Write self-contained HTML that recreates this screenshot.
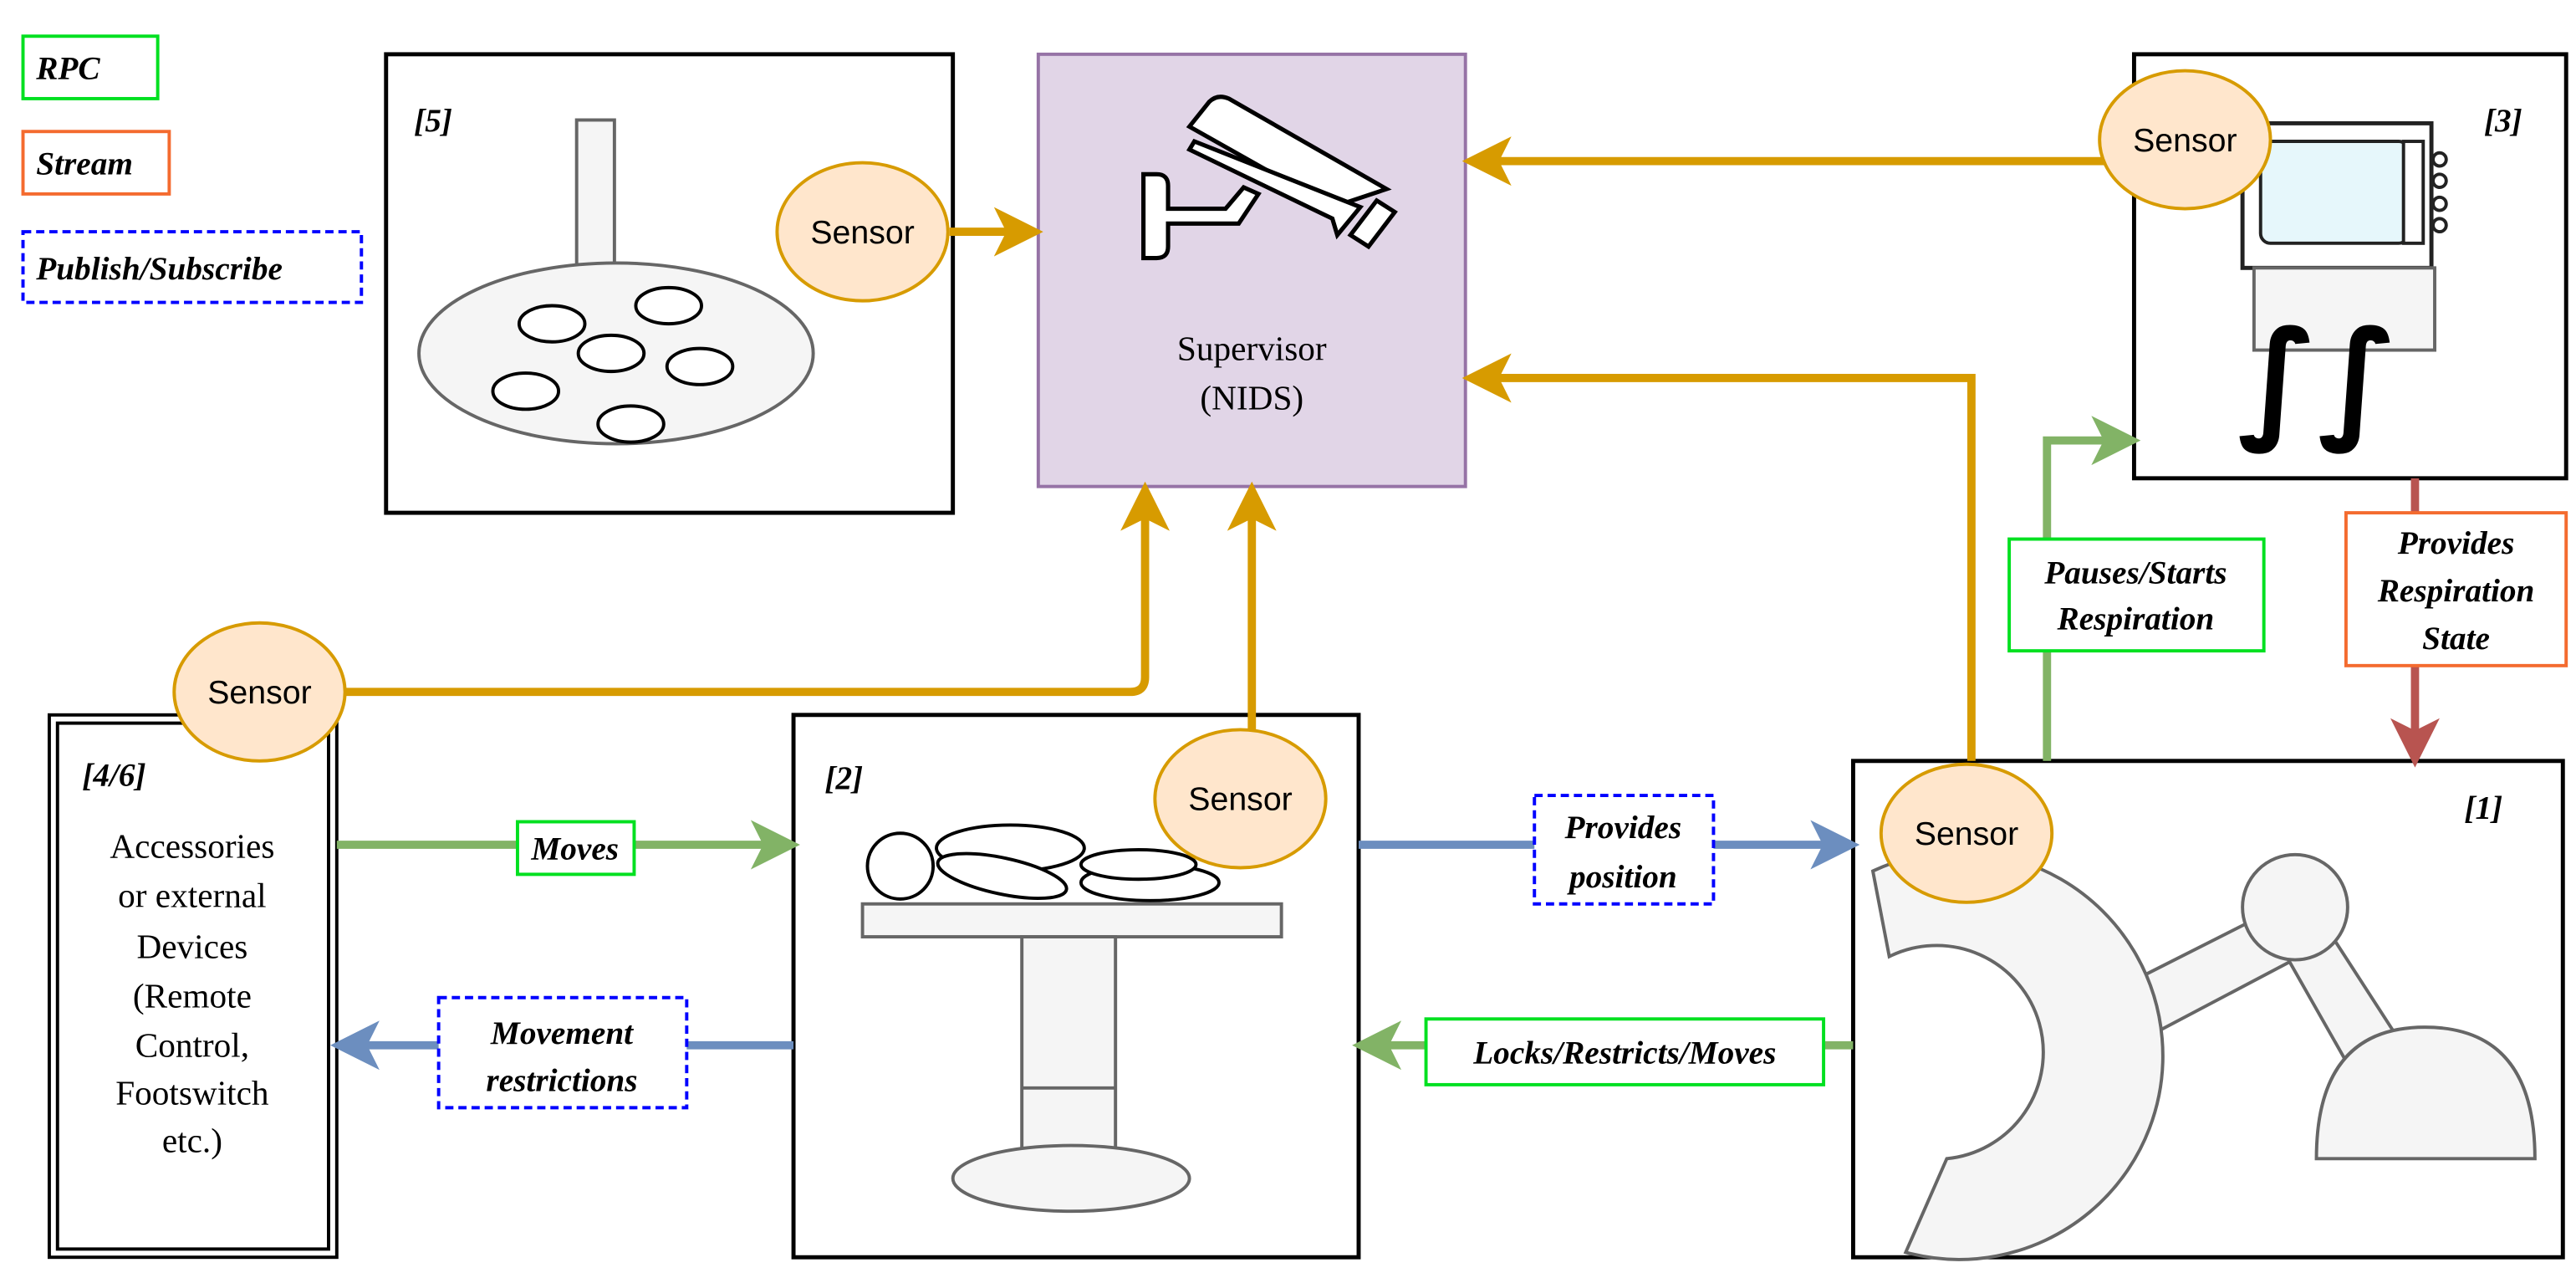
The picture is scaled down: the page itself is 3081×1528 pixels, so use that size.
<!DOCTYPE html>
<html><head><meta charset="utf-8"><style>html,body{margin:0;padding:0;background:#fff}svg{display:block}</style></head><body>
<svg width="3081" height="1528" viewBox="0 0 1568 777.6" xmlns="http://www.w3.org/2000/svg">
<defs>
<marker id="ao" markerWidth="6" markerHeight="6" refX="3" refY="3" orient="auto" markerUnits="strokeWidth"><path d="M0,0 L6,3 L0,6 L1.5,3 Z" fill="#d79b00"/></marker>
<marker id="ag" markerWidth="6" markerHeight="6" refX="3" refY="3" orient="auto" markerUnits="strokeWidth"><path d="M0,0 L6,3 L0,6 L1.5,3 Z" fill="#82b366"/></marker>
<marker id="ab" markerWidth="6" markerHeight="6" refX="3" refY="3" orient="auto" markerUnits="strokeWidth"><path d="M0,0 L6,3 L0,6 L1.5,3 Z" fill="#6c8ebf"/></marker>
<marker id="ar" markerWidth="6" markerHeight="6" refX="3" refY="3" orient="auto" markerUnits="strokeWidth"><path d="M0,0 L6,3 L0,6 L1.5,3 Z" fill="#b85450"/></marker>
</defs>
<style>
.lbl{font-family:"Liberation Serif",serif;font-weight:bold;font-style:italic;font-size:20px}
.sen{font-family:"Liberation Sans",sans-serif;font-size:20px}
.ser{font-family:"Liberation Serif",serif;font-size:21px}
.g{fill:#f5f5f5;stroke:#666;stroke-width:2}
</style>
<!-- legend -->
<rect x="14" y="22" width="82" height="38" fill="#fff" stroke="#00e020" stroke-width="2"/>
<text x="22" y="48" class="lbl">RPC</text>
<rect x="14" y="80" width="89" height="38" fill="#fff" stroke="#f46b2f" stroke-width="2"/>
<text x="22" y="106" class="lbl">Stream</text>
<rect x="14" y="141" width="206" height="43" fill="#fff" stroke="#0000ff" stroke-width="2" stroke-dasharray="5,3"/>
<text x="22" y="170" class="lbl">Publish/Subscribe</text>

<!-- box 5 -->
<rect x="235" y="33" width="345" height="279" fill="#fff" stroke="#000" stroke-width="2.5"/>
<text x="252" y="80" class="lbl">[5]</text>
<rect x="351" y="73" width="23" height="92" class="g"/>
<ellipse cx="375" cy="215" rx="120" ry="55" class="g"/>
<g fill="#fff" stroke="#000" stroke-width="2">
<ellipse cx="336" cy="197" rx="20" ry="11"/><ellipse cx="407" cy="186" rx="20" ry="11"/>
<ellipse cx="372" cy="215" rx="20" ry="11"/><ellipse cx="426" cy="223" rx="20" ry="11"/>
<ellipse cx="320" cy="238" rx="20" ry="11"/><ellipse cx="384" cy="258" rx="20" ry="11"/>
</g>

<!-- supervisor -->
<rect x="632" y="33" width="260" height="263" fill="#e1d5e7" stroke="#9673a6" stroke-width="2"/>
<g fill="#fff" stroke="#000" stroke-width="2.6" stroke-linejoin="miter">
<path d="M696,106 L704,106 Q711,106 711,113 L711,127 L746,127 L757,114 L766,118 L754,136 L711,136 L711,150 Q711,157 704,157 L696,157 Z"/>
<path d="M724,77 L736,62 Q741,57 748,60 L844,115 L811,126 Z"/>
<path d="M724,91 L727,86 L828,126 L814,143 L811,133 Z"/>
<path d="M822,143 L838,122 L849,129 L833,150 Z"/>
</g>
<text x="762" y="219" text-anchor="middle" class="ser" font-size="20">Supervisor</text>
<text x="762" y="249" text-anchor="middle" class="ser" font-size="20">(NIDS)</text>

<!-- box 3 -->
<rect x="1299" y="33" width="263" height="258" fill="#fff" stroke="#000" stroke-width="2.5"/>
<text x="1512" y="80" class="lbl">[3]</text>
<rect x="1365" y="75" width="115" height="88" fill="#fff" stroke="#222" stroke-width="2.5"/>
<rect x="1376" y="86" width="90" height="62" rx="6" fill="#e6f7fb" stroke="#222" stroke-width="2"/>
<rect x="1463" y="86" width="12" height="62" fill="#fff" stroke="#222" stroke-width="2"/>
<g fill="#fff" stroke="#222" stroke-width="2"><circle cx="1485" cy="97" r="4"/><circle cx="1485" cy="110" r="4"/><circle cx="1485" cy="124" r="4"/><circle cx="1485" cy="137" r="4"/></g>
<rect x="1372" y="163" width="110" height="50" class="g"/>
<text x="1362" y="258" font-family="DejaVu Sans,sans-serif" font-size="80" font-weight="bold">∫∫</text>

<!-- box 4/6 -->
<rect x="30" y="435" width="175" height="330" fill="#fff" stroke="#000" stroke-width="2"/>
<rect x="35" y="440" width="165" height="320" fill="none" stroke="#000" stroke-width="2"/>
<text x="50" y="478" class="lbl">[4/6]</text>
<g class="ser" text-anchor="middle">
<text x="117" y="522">Accessories</text><text x="117" y="552">or external</text><text x="117" y="583">Devices</text>
<text x="117" y="613">(Remote</text><text x="117" y="643">Control,</text><text x="117" y="672">Footswitch</text><text x="117" y="701">etc.)</text>
</g>

<!-- box 2 -->
<rect x="483" y="435" width="344" height="330" fill="#fff" stroke="#000" stroke-width="2.5"/>
<text x="502" y="480" class="lbl">[2]</text>
<rect x="525" y="550" width="255" height="20" class="g"/>
<rect x="622" y="570" width="57" height="147" class="g"/>
<line x1="622" y1="662" x2="679" y2="662" stroke="#666" stroke-width="2"/>
<ellipse cx="652" cy="717" rx="72" ry="20" class="g"/>
<g fill="#fff" stroke="#000" stroke-width="2">
<circle cx="548" cy="527" r="20"/>
<ellipse cx="615" cy="516" rx="45" ry="14"/>
<ellipse cx="610" cy="533" rx="40" ry="11" transform="rotate(12 610 533)"/>
<ellipse cx="700" cy="537" rx="42" ry="11"/>
<ellipse cx="693" cy="526" rx="35" ry="9"/>
</g>

<!-- box 1 -->
<rect x="1128" y="463" width="432" height="302" fill="#fff" stroke="#000" stroke-width="2.5"/>
<text x="1500" y="498" class="lbl">[1]</text>
<path d="M1296,598 L1385,553 L1398,583 L1305,632 Z" class="g"/>
<path d="M1385,570 L1410,555 L1465,640 L1435,658 Z" class="g"/>
<path d="M1140,530 A124 124 0 1 1 1160,762 L1185,705 A65 65 0 1 0 1150,582 Z" class="g"/>
<circle cx="1397" cy="552" r="32" class="g"/>
<path d="M1410,705 L1543,705 Q1543,625 1476,625 Q1410,625 1410,705 Z" class="g"/>

<!-- connectors -->
<g fill="none" stroke-width="5">
<path d="M578,141 L620,141" stroke="#d79b00" marker-end="url(#ao)"/>
<path d="M1282,98 L905,98" stroke="#d79b00" marker-end="url(#ao)"/>
<path d="M1200,463 L1200,230 L905,230" stroke="#d79b00" marker-end="url(#ao)"/>
<path d="M210,421 L688,421 Q697,421 697,412 L697,308" stroke="#d79b00" marker-end="url(#ao)"/>
<path d="M762,445 L762,308" stroke="#d79b00" marker-end="url(#ao)"/>
<path d="M205,514 L472,514" stroke="#82b366" marker-end="url(#ag)"/>
<path d="M827,514 L1117,514" stroke="#6c8ebf" marker-end="url(#ab)"/>
<path d="M1128,636 L838,636" stroke="#82b366" marker-end="url(#ag)"/>
<path d="M483,636 L216,636" stroke="#6c8ebf" marker-end="url(#ab)"/>
<path d="M1246,463 L1246,268 L1288,268" stroke="#82b366" marker-end="url(#ag)"/>
<path d="M1470,291 L1470,452" stroke="#b85450" marker-end="url(#ar)"/>
</g>

<!-- labels -->
<rect x="315" y="500" width="71" height="32" fill="#fff" stroke="#00e020" stroke-width="2"/>
<text x="350" y="523" text-anchor="middle" class="lbl">Moves</text>
<rect x="934" y="484" width="109" height="66" fill="#fff" stroke="#0000ff" stroke-width="2" stroke-dasharray="5,3"/>
<text x="988" y="510" text-anchor="middle" class="lbl">Provides</text>
<text x="988" y="540" text-anchor="middle" class="lbl">position</text>
<rect x="868" y="620" width="242" height="40" fill="#fff" stroke="#00e020" stroke-width="2"/>
<text x="989" y="647" text-anchor="middle" class="lbl">Locks/Restricts/Moves</text>
<rect x="267" y="607" width="151" height="67" fill="#fff" stroke="#0000ff" stroke-width="2" stroke-dasharray="5,3"/>
<text x="342" y="635" text-anchor="middle" class="lbl">Movement</text>
<text x="342" y="664" text-anchor="middle" class="lbl">restrictions</text>
<rect x="1223" y="328" width="155" height="68" fill="#fff" stroke="#00e020" stroke-width="2"/>
<text x="1300" y="355" text-anchor="middle" class="lbl">Pauses/Starts</text>
<text x="1300" y="383" text-anchor="middle" class="lbl">Respiration</text>
<rect x="1428" y="312" width="134" height="93" fill="#fff" stroke="#f46b2f" stroke-width="2"/>
<text x="1495" y="337" text-anchor="middle" class="lbl">Provides</text>
<text x="1495" y="366" text-anchor="middle" class="lbl">Respiration</text>
<text x="1495" y="395" text-anchor="middle" class="lbl">State</text>

<!-- sensors -->
<g fill="#ffe6cc" stroke="#d79b00" stroke-width="2">
<ellipse cx="525" cy="141" rx="52" ry="42"/>
<ellipse cx="1330" cy="85" rx="52" ry="42"/>
<ellipse cx="158" cy="421" rx="52" ry="42"/>
<ellipse cx="755" cy="486" rx="52" ry="42"/>
<ellipse cx="1197" cy="507" rx="52" ry="42"/>
</g>
<g class="sen" text-anchor="middle">
<text x="525" y="148">Sensor</text><text x="1330" y="92">Sensor</text><text x="158" y="428">Sensor</text>
<text x="755" y="493">Sensor</text><text x="1197" y="514">Sensor</text>
</g>
</svg>
</body></html>
